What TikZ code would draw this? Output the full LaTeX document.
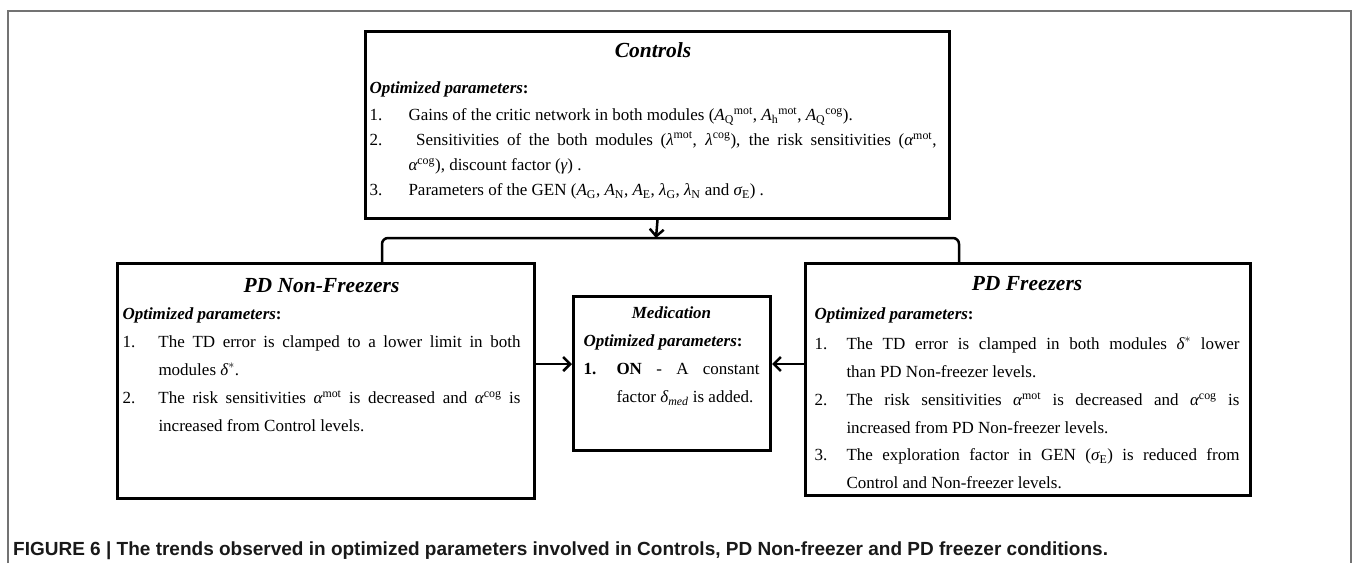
\documentclass[tikz,border=0pt]{standalone}
\usepackage{fontspec}
\setmainfont{Liberation Serif}
\newfontfamily\capfont{Liberation Sans}
\usetikzlibrary{arrows.meta}

\newlength{\numwd}
\newcommand{\heading}[3]{%
  \noindent\makebox[\linewidth]{\rule{0pt}{#1}\fontsize{#2}{#2}\selectfont\bfseries\itshape #3}\par}
\newcommand{\optpar}{\noindent{\bfseries\itshape Optimized parameters}\textbf{:}\par}
\newcommand{\entry}[2]{\hangindent=\numwd\hangafter=1\noindent\makebox[\numwd][l]{#1}#2\par}
\newcommand{\up}[1]{\mathrm{#1}}
\newcommand{\vr}[1]{\textit{#1}}

\tikzstyle{panel}=[
    draw,
    line width=3pt,
    inner sep=0pt,
    anchor=north west,
  ]
\tikzstyle{link}=[
    -{Straight Barb[length=7pt,width=14pt]},
    line width=2.5pt,
  ]
\tikzstyle{bus}=[
    line width=2.5pt,
    rounded corners=6pt,
  ]

\begin{document}
\begin{tikzpicture}[x=1pt,y=-1pt]
  \useasboundingbox (0,0) rectangle (1357,563);
  \draw[black!55, line width=1.5pt] (8,563) |- (1351,11) -- (1351,563);

  \node[panel] (controls) at (364,30) {\hspace*{4pt}\parbox[c][187pt][t]{567pt}{%
    \fontsize{17}{25}\selectfont\setlength{\numwd}{39pt}%
    \heading{26pt}{21.5}{Controls}\vspace{11pt}%
    \optpar\vspace{2pt}%
    \entry{1.}{Gains of the critic network in both modules ($\vr{A}_{\up{Q}}{}^{\up{mot}}$, $\vr{A}_{\up{h}}{}^{\up{mot}}$, $\vr{A}_{\up{Q}}{}^{\up{cog}}$).}
    \entry{2.}{\ Sensitivities of the both modules ($\vr{λ}^{\up{mot}}$, $\vr{λ}^{\up{cog}}$), the risk sensitivities ($\vr{α}^{\up{mot}}$,\linebreak $\vr{α}^{\up{cog}}$), discount factor ($\vr{γ}$) .}
    \entry{3.}{Parameters of the GEN ($\vr{A}_{\up{G}}$, $\vr{A}_{\up{N}}$, $\vr{A}_{\up{E}}$, $\vr{λ}_{\up{G}}$, $\vr{λ}_{\up{N}}$ and $\vr{σ}_{\up{E}}$) .}}\hspace*{13pt}};

  \node[panel] (nonfreeze) at (116,262) {\hspace*{5pt}\parbox[c][235pt][t]{398pt}{%
    \fontsize{17}{27.7}\selectfont\setlength{\numwd}{36pt}%
    \heading{29pt}{21.5}{PD Non-Freezers}\vspace{-1pt}%
    \optpar\vspace{1pt}%
    \entry{1.}{The TD error is clamped to a lower limit in both\linebreak modules $\vr{δ}^{*}$.}
    \entry{2.}{The risk sensitivities $\vr{α}^{\up{mot}}$ is decreased and $\vr{α}^{\up{cog}}$ is\linebreak increased from Control levels.}}\hspace*{14pt}};

  \node[panel] (medication) at (572,295) {\hspace*{10pt}\parbox[c][154pt][t]{176pt}{%
    \fontsize{17}{28}\selectfont\setlength{\numwd}{33pt}%
    \heading{22pt}{17}{Medication}%
    \optpar%
    \entry{\textbf{1.}}{\textbf{ON} - A constant\linebreak factor $\vr{δ}_{\mathit{med}}$ is added.}}\hspace*{11pt}};

  \node[panel] (freeze) at (804,262) {\hspace*{9pt}\parbox[c][232pt][t]{425pt}{%
    \fontsize{17}{27.7}\selectfont\setlength{\numwd}{32pt}%
    \heading{27pt}{21.5}{PD Freezers}\vspace{1pt}%
    \optpar\vspace{3pt}%
    \entry{1.}{The TD error is clamped in both modules $\vr{δ}^{*}$ lower\linebreak than PD Non-freezer levels.}
    \entry{2.}{The risk sensitivities $\vr{α}^{\up{mot}}$ is decreased and $\vr{α}^{\up{cog}}$ is\linebreak increased from PD Non-freezer levels.}
    \entry{3.}{The exploration factor in GEN ($\vr{σ}_{\up{E}}$) is reduced from\linebreak Control and Non-freezer levels.}}\hspace*{11pt}};

  % connectors
  \coordinate (bus) at (656,238);
  \coordinate (busL) at ([xshift=266pt]nonfreeze.north west);
  \coordinate (busR) at ([xshift=155pt]freeze.north west);
  \coordinate (row) at (656,364);
  \draw[bus] (busL) |- (bus) -| (busR);
  \draw[link] (controls.south) -- (bus);
  \draw[link] (nonfreeze.east |- row) -- (medication.west |- row);
  \draw[link] (freeze.west |- row) -- (medication.east |- row);

  \node[anchor=base west, font=\capfont\bfseries\fontsize{19}{19}\selectfont, text=black!90, inner sep=0pt] (caption) at (13,555)
    {FIGURE 6 | The trends observed in optimized parameters involved in Controls, PD Non-freezer and PD freezer conditions.};
\end{tikzpicture}
\end{document}
